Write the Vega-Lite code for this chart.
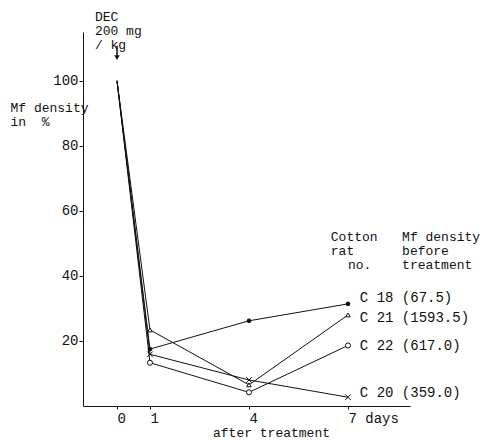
{
  "$schema": "https://vega.github.io/schema/vega-lite/v6.json",
  "width": 327,
  "height": 374,
  "autosize": "none",
  "padding": {"left": 83, "top": 32, "right": 79, "bottom": 34},
  "background": "white",
  "config": {
    "view": {"stroke": null},
    "font": "Liberation Mono",
    "axis": {"labelFont": "Liberation Mono", "titleFont": "Liberation Mono", "labelColor": "#111", "titleColor": "#111", "domainColor": "#111", "tickColor": "#111", "grid": false, "labelFontSize": 14, "titleFontSize": 14, "titleFontWeight": "normal"}
  },
  "datasets": {
    "series": [
      {"rat": "C18", "day": 0, "density": 100},
      {"rat": "C18", "day": 1, "density": 17.5},
      {"rat": "C18", "day": 4, "density": 26.2},
      {"rat": "C18", "day": 7, "density": 31.4},
      {"rat": "C21", "day": 0, "density": 100},
      {"rat": "C21", "day": 1, "density": 23.4},
      {"rat": "C21", "day": 4, "density": 6.5},
      {"rat": "C21", "day": 7, "density": 28.0},
      {"rat": "C22", "day": 0, "density": 100},
      {"rat": "C22", "day": 1, "density": 13.3},
      {"rat": "C22", "day": 4, "density": 4.2},
      {"rat": "C22", "day": 7, "density": 18.6},
      {"rat": "C20", "day": 0, "density": 100},
      {"rat": "C20", "day": 1, "density": 15.9},
      {"rat": "C20", "day": 4, "density": 8.0},
      {"rat": "C20", "day": 7, "density": 2.7}
    ],
    "notes": [
      {"x": -0.67, "y": 119.7, "text": "DEC"},
      {"x": -0.67, "y": 115.4, "text": "200 mg"},
      {"x": -0.67, "y": 111.1, "text": "/ kg"},
      {"x": 6.48, "y": 52.0, "text": "Cotton"},
      {"x": 6.48, "y": 47.7, "text": "rat"},
      {"x": 7.0, "y": 43.4, "text": "no."},
      {"x": 8.64, "y": 52.0, "text": "Mf density"},
      {"x": 8.64, "y": 47.7, "text": "before"},
      {"x": 8.64, "y": 43.4, "text": "treatment"}
    ],
    "labels": [
      {"x": 7.36, "y": 33.2, "text": "C 18 (67.5)"},
      {"x": 7.36, "y": 27.1, "text": "C 21 (1593.5)"},
      {"x": 7.36, "y": 18.5, "text": "C 22 (617.0)"},
      {"x": 7.36, "y": 4.0, "text": "C 20 (359.0)"}
    ],
    "arrow": [
      {"x": 0, "y": 110.8, "y2": 107.1}
    ]
  },
  "layer": [
    {
      "data": {"name": "series"},
      "mark": {"type": "line", "color": "#111", "strokeWidth": 1},
      "encoding": {
        "x": {"field": "day", "type": "quantitative", "scale": {"domain": [-1.03, 8.88], "nice": false, "zero": false},
          "axis": {"values": [0, 1, 4, 7], "title": "after treatment", "tickSize": 3, "labelPadding": 9, "labelBaseline": "middle", "labelAlign": "left", "labelDx": -4, "labelExpr": "datum.value == 7 ? '7 days' : datum.label", "titleX": 188, "titleY": 26, "titleBaseline": "middle", "titleAlign": "center", "titlePadding": 0, "titleFontSize": 13}},
        "y": {"field": "density", "type": "quantitative", "scale": {"domain": [0, 115], "nice": false},
          "axis": {"values": [20, 40, 60, 80, 100], "title": ["Mf density", "in\u00a0\u00a0%"], "tickSize": 4, "labelPadding": 1, "titleAngle": 0, "titleAlign": "left", "titleBaseline": "top", "titleX": -73, "titleY": 69, "titleLineHeight": 14, "titleFontSize": 13}},
        "detail": {"field": "rat"}
      }
    },
    {
      "data": {"name": "series"},
      "transform": [{"filter": "datum.day > 0"}],
      "mark": {"type": "point", "filled": true, "stroke": "#111", "strokeWidth": 1, "opacity": 1},
      "encoding": {
        "x": {"field": "day", "type": "quantitative"},
        "y": {"field": "density", "type": "quantitative"},
        "shape": {"field": "rat", "type": "nominal", "scale": {"domain": ["C18", "C21", "C22", "C20"], "range": ["circle", "triangle-up", "circle", "M-1,-1L1,1M-1,1L1,-1"]}, "legend": null},
        "fill": {"field": "rat", "type": "nominal", "scale": {"domain": ["C18", "C21", "C22", "C20"], "range": ["#111", "white", "white", "white"]}, "legend": null},
        "size": {"field": "rat", "type": "nominal", "scale": {"domain": ["C18", "C21", "C22", "C20"], "range": [14, 32, 28, 40]}, "legend": null}
      }
    },
    {
      "data": {"name": "notes"},
      "mark": {"type": "text", "align": "left", "baseline": "middle", "fontSize": 13, "color": "#111", "font": "Liberation Mono"},
      "encoding": {
        "x": {"field": "x", "type": "quantitative"},
        "y": {"field": "y", "type": "quantitative"},
        "text": {"field": "text"}
      }
    },
    {
      "data": {"name": "labels"},
      "mark": {"type": "text", "align": "left", "baseline": "middle", "fontSize": 14, "color": "#111", "font": "Liberation Mono"},
      "encoding": {
        "x": {"field": "x", "type": "quantitative"},
        "y": {"field": "y", "type": "quantitative"},
        "text": {"field": "text"}
      }
    },
    {
      "data": {"name": "arrow"},
      "mark": {"type": "rule", "color": "#111", "strokeWidth": 1.5},
      "encoding": {
        "x": {"field": "x", "type": "quantitative"},
        "y": {"field": "y", "type": "quantitative"},
        "y2": {"field": "y2"}
      }
    },
    {
      "data": {"name": "arrow"},
      "mark": {"type": "point", "shape": "triangle-down", "filled": true, "color": "#111", "size": 30, "opacity": 1},
      "encoding": {
        "x": {"field": "x", "type": "quantitative"},
        "y": {"field": "y2", "type": "quantitative"}
      }
    }
  ]
}
